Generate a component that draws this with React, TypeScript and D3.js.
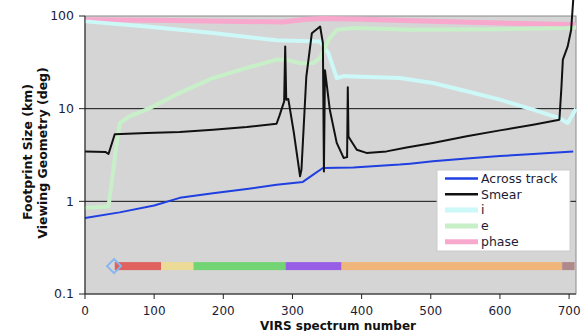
import React from "react"
import * as d3 from "d3"

// VIRS spectrum numbers and values
const acrossX = [0, 50, 100, 137, 185, 234, 277, 315, 330, 344, 388, 455, 470, 503, 552, 600, 648, 706]
const acrossY = [0.66, 0.76, 0.9, 1.09, 1.22, 1.36, 1.51, 1.62, 1.94, 2.29, 2.32, 2.49, 2.55, 2.7, 2.9, 3.08, 3.25, 3.46]

const smearX = [0, 30, 34, 43, 89, 137, 185, 234, 277, 281, 288, 289.5, 291, 294, 302, 311, 313, 320, 328, 340, 344, 345.5, 347, 354, 364, 374, 379, 380, 381, 384, 393, 407, 436, 465, 503, 552, 600, 648, 686, 689, 691, 698, 703, 706]
const smearY = [3.46, 3.4, 3.24, 5.3, 5.47, 5.6, 5.94, 6.35, 6.87, 8.3, 12, 47, 12.5, 12.7, 5.5, 1.86, 2.2, 22, 65, 77, 51, 2.1, 26, 9.75, 4.27, 2.94, 3.0, 17, 5.0, 4.6, 3.6, 3.33, 3.46, 3.8, 4.27, 5.03, 5.83, 6.72, 7.6, 17.4, 33.8, 47, 71, 150]

const incX = [0, 89, 185, 277, 340, 352, 364, 375, 388, 455, 503, 552, 600, 648, 686, 698, 710]
const incY = [87.5, 77, 65.6, 54.6, 53, 39.8, 21.4, 22.5, 22.3, 21.4, 18.9, 15.4, 12.5, 9.75, 7.9, 7.0, 10]

const emiX = [0, 34, 38.5, 45.8, 50.6, 65, 89, 137, 185, 234, 277, 291, 310, 330, 340, 352, 364, 388, 470, 600, 696, 710]
const emiY = [0.85, 0.88, 1.58, 4.27, 7.0, 8.3, 9.75, 14.8, 21.4, 27.5, 33.8, 33.8, 31, 31, 35.3, 55, 71, 74, 71, 72, 74, 75]

const phaseX = [0, 100, 200, 286, 320, 345, 400, 500, 600, 700, 710]
const phaseY = [91, 90, 88, 86, 92, 94, 92, 88, 84, 81, 80]

// coloured strip along the bottom
const stripStart = [43, 110, 157, 290, 371, 690]
const stripEnd = [110, 157, 290, 371, 690, 708]
const stripColors = ["#e0625f", "#ecdb96", "#73d473", "#985fe6", "#f0b57a", "#b08a8a"]
const stripLevel = 0.2
const markerX = 42

const xTicks = [0, 100, 200, 300, 400, 500, 600, 700]
const yTicks = [0.1, 1, 10, 100]
const yTickLabels = ["0.1", "1", "10", "100"]

const legendNames = ["Across track", "Smear", "i", "e", "phase"]
const legendColors = ["#1f3fe0", "#111111", "#ccf8f8", "#c8f0c8", "#f7a8cc"]
const legendWidths = [2.5, 2.5, 5, 5, 5]

const font = "'DejaVu Sans', Verdana, sans-serif"

export default function App() {
    const width = 581
    const height = 331
    const left = 85
    const right = 576
    const top = 16
    const bottom = 294

    const x = d3.scaleLinear().domain([0, 710]).range([left, right])
    const y = d3.scaleLog().domain([0.1, 100]).range([bottom, top])

    const makePath = (xs: number[], ys: number[]) =>
        d3.line<number>()
            .x((_, i) => x(xs[i]))
            .y((d) => y(d))(ys) || ""

    const series = [
        { xs: phaseX, ys: phaseY, color: legendColors[4], w: 5 },
        { xs: incX, ys: incY, color: legendColors[2], w: 4 },
        { xs: emiX, ys: emiY, color: legendColors[3], w: 4 },
        { xs: acrossX, ys: acrossY, color: legendColors[0], w: 2 },
        { xs: smearX, ys: smearY, color: legendColors[1], w: 2 },
    ]

    const ys = y(stripLevel)
    const mx = x(markerX)

    const lgX = 437
    const lgY = 170
    const lgRow = 15.8

    return (
        <svg width={width} height={height} style={{ position: "absolute", left: 0, top: 0, background: "#fff" }} fontFamily={font}>
            <rect x={left} y={top} width={right - left} height={bottom - top} fill="#d5d5d5" stroke="#8a8a8a" strokeWidth={1} />

            {/* gridlines */}
            {[1, 10].map((t) => (
                <line key={t} x1={left} x2={right} y1={y(t)} y2={y(t)} stroke="#111" strokeWidth={1} />
            ))}

            {/* strip */}
            {stripStart.map((s, i) => (
                <rect key={i} x={x(s)} y={ys - 4} width={x(stripEnd[i]) - x(s)} height={8} fill={stripColors[i]} />
            ))}
            <path d={`M${mx - 7},${ys} L${mx},${ys - 7} L${mx + 7},${ys} L${mx},${ys + 7} Z`} fill="none" stroke="#86b6f2" strokeWidth={2} />

            {series.map((s, i) => (
                <path key={i} d={makePath(s.xs, s.ys)} fill="none" stroke={s.color} strokeWidth={s.w} strokeLinejoin="round" />
            ))}

            {/* axes */}
            <line x1={left} x2={left} y1={top} y2={bottom} stroke="#222" />
            <line x1={left} x2={right} y1={bottom} y2={bottom} stroke="#222" />
            {yTicks.map((t, i) => (
                <g key={t}>
                    <line x1={left - 6} x2={left} y1={y(t)} y2={y(t)} stroke="#222" />
                    <text x={left - 11} y={y(t)} dy="0.35em" textAnchor="end" fontSize={12.5} fill="#1c1c34">
                        {yTickLabels[i]}
                    </text>
                </g>
            ))}
            {xTicks.map((t) => (
                <g key={t}>
                    <line x1={x(t)} x2={x(t)} y1={bottom} y2={bottom + 5} stroke="#222" />
                    <text x={x(t)} y={314.5} textAnchor="middle" fontSize={12} fill="#1c1c34">
                        {t}
                    </text>
                </g>
            ))}

            <text x={338} y={329.5} textAnchor="middle" fontSize={12} fontWeight="bold" fill="#111">
                VIRS spectrum number
            </text>
            <text transform="translate(32,152) rotate(-90)" textAnchor="middle" fontSize={12.5} fontWeight="bold" fill="#111">
                Footprint Size (km)
            </text>
            <text transform="translate(47,153) rotate(-90)" textAnchor="middle" fontSize={12.5} fontWeight="bold" fill="#111">
                Viewing Geometry (deg)
            </text>

            {/* legend */}
            <rect x={lgX} y={lgY} width={133} height={81} fill="#fff" stroke="#ccc" />
            {legendNames.map((n, i) => (
                <g key={n}>
                    <line x1={445} x2={478} y1={lgY + 8.5 + i * lgRow} y2={lgY + 8.5 + i * lgRow} stroke={legendColors[i]} strokeWidth={legendWidths[i]} />
                    <text x={481} y={lgY + 8.5 + i * lgRow} dy="0.35em" fontSize={12.5} fill="#1c1c34">
                        {n}
                    </text>
                </g>
            ))}
        </svg>
    )
}
